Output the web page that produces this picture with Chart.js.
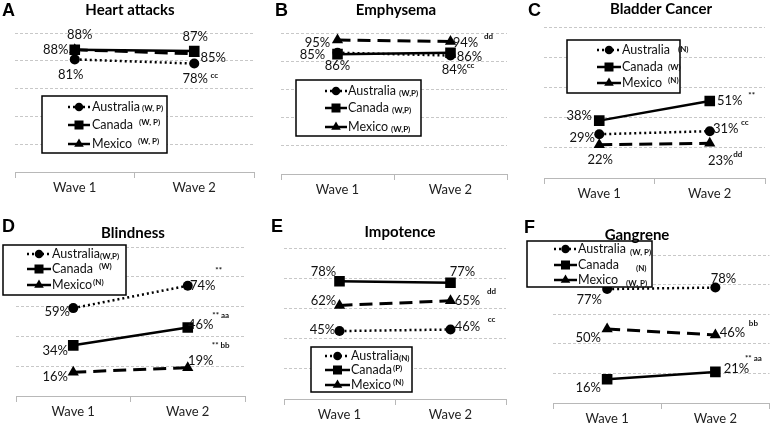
<!DOCTYPE html>
<html>
<head>
<meta charset="utf-8">
<script src="https://cdn.jsdelivr.net/npm/chart.js@4.4.0/dist/chart.umd.min.js"></script>
<style>
  body { margin: 0; background: #fff; }
  #wrap { position: relative; width: 777px; height: 425px; }
  #wrap canvas { position: absolute; left: 0; top: 0; }
</style>
</head>
<body>
<div id="wrap"></div>
<script>
// === data ===
const waves = ["Wave 1", "Wave 2"];
const countries = ["Australia", "Canada", "Mexico"];

const heartAustralia = [81, 78];
const heartCanada = [88, 87];
const heartMexico = [88, 85];

const emphAustralia = [86, 84];
const emphCanada = [85, 86];
const emphMexico = [95, 94];

const bladderAustralia = [29, 31];
const bladderCanada = [38, 51];
const bladderMexico = [22, 23];

const blindAustralia = [59, 74];
const blindCanada = [34, 46];
const blindMexico = [16, 19];

const impoAustralia = [45, 46];
const impoCanada = [78, 77];
const impoMexico = [62, 65];

const gangAustralia = [77, 78];
const gangCanada = [16, 21];
const gangMexico = [50, 46];

const yTicks = [0, 20, 40, 60, 80, 100];

// === styles ===
const FONT = "Lato, 'Open Sans', sans-serif";
const seriesStyle = [
  { pointStyle: "circle", radius: 5, dash: [2, 3], width: 2.5 },
  { pointStyle: "rect", radius: 7.5, dash: [], width: 2.5 },
  { pointStyle: "triangle", radius: 6.5, dash: [13, 7], width: 3 },
];

// panels: chart area (absolute px), title, letter, legend, value labels
const panels = [
  {
    letter: "A", lx: 2, ly: 10, title: "Heart attacks", tx: 130, ty: 9,
    area: { l: 15, r: 254, t: 33, b: 172 },
    data: [heartAustralia, heartCanada, heartMexico],
    legend: { x: 42, y: 96, w: 125, h: 57, rows: [107, 125, 144], s1: 68, s2: 90, tx: 92,
      notes: [["(W, P)", 2, 1], ["(W, P)", 6, -3], ["(W, P)", 6, -3]] },
    labels: [[1, 0, 5, -15], [1, 1, 1, -14], [2, 0, -19, 0], [2, 1, 19, 4], [0, 0, -4, 15], [0, 1, 1, 15, "cc", 20, 12]],
  },
  {
    letter: "B", lx: 275, ly: 10, title: "Emphysema", tx: 396, ty: 9,
    area: { l: 281, r: 507, t: 33, b: 174 },
    data: [emphAustralia, emphCanada, emphMexico],
    legend: { x: 296, y: 80, w: 125, h: 56, rows: [91, 108, 127], s1: 325, s2: 347, tx: 348,
      notes: [["(W,P)", 3, 2], ["(W,P)", 3, 2], ["(W,P)", 3, 2]] },
    labels: [[2, 0, -20, 3], [2, 1, 15, 1, "dd", 38, -5], [1, 0, -25, 1], [1, 1, 19, 4], [0, 0, 0, 13], [0, 1, 4, 14, "cc", 20, 10]],
  },
  {
    letter: "C", lx: 528, ly: 10, title: "Bladder Cancer", tx: 661, ty: 8,
    area: { l: 544, r: 765, t: 27, b: 178 },
    data: [bladderAustralia, bladderCanada, bladderMexico],
    legend: { x: 567, y: 40, w: 113, h: 53, rows: [50, 67, 83], s1: 597, s2: 621, tx: 622,
      notes: [["(N)", 8, -1], ["(W)", 5, 0], ["(N)", 6, -3]] },
    labels: [[1, 0, -20, -5], [1, 1, 20, 0, "**", 42, -6], [0, 0, -17, 4], [0, 1, 16, -2, "cc", 35, -9], [2, 0, 1, 15], [2, 1, 11, 18, "dd", 28, 11]],
  },
  {
    letter: "D", lx: 2, ly: 226, title: "Blindness", tx: 133, ty: 232,
    area: { l: 16, r: 245, t: 247, b: 396 },
    data: [blindAustralia, blindCanada, blindMexico],
    legend: { x: 3, y: 245, w: 123, h: 50, rows: [254, 269, 285], s1: 27, s2: 51, tx: 52,
      notes: [["(W,P)", 0, 2], ["(W)", 6, -3], ["(N)", 1, -3]] },
    labels: [[0, 0, -16, 4], [0, 1, 15, 0, "**", 31, -15], [1, 0, -18, 5], [1, 1, 13, -3, "** aa", 33, -12], [2, 0, -18, 5], [2, 1, 13, -7, "** bb", 33, -22]],
  },
  {
    letter: "E", lx: 271, ly: 226, title: "Impotence", tx: 400, ty: 231,
    area: { l: 284, r: 506, t: 248, b: 399 },
    data: [impoAustralia, impoCanada, impoMexico],
    legend: { x: 311, y: 347, w: 101, h: 45, rows: [356, 370, 385], s1: 325, s2: 350, tx: 351,
      notes: [["(N)", 0, 2], ["(P)", 1, -2], ["(N)", 2, -3]] },
    labels: [[1, 0, -16, -9], [1, 1, 12, -11], [2, 0, -16, -5], [2, 1, 17, 0, "dd", 41, -9], [0, 0, -17, -1], [0, 1, 17, -3, "cc", 41, -10]],
  },
  {
    letter: "F", lx: 524, ly: 227, title: "Gangrene", tx: 637, ty: 234,
    area: { l: 553, r: 774, t: 255, b: 403 },
    data: [gangAustralia, gangCanada, gangMexico],
    legend: { x: 527, y: 241, w: 125, h: 46, rows: [249, 265, 280], s1: 554, s2: 577, tx: 578,
      notes: [["(W, P)", 4, 3], ["(N)", 17, 3], ["(W, P)", 8, 3]] },
    labels: [[0, 0, -18, 11], [0, 1, 8, -9], [2, 0, -19, 9], [2, 1, 17, -2, "bb", 38, -11], [1, 0, -19, 8], [1, 1, 21, -3, "** aa", 38, -13]],
  },
];

// === marker helper ===
function marker(ctx, style, x, y, r) {
  ctx.beginPath();
  if (style === "circle") {
    ctx.arc(x, y, r, 0, Math.PI * 2);
  } else if (style === "rect") {
    const s = r * Math.SQRT1_2;
    ctx.rect(x - s, y - s, s * 2, s * 2);
  } else {
    ctx.moveTo(x, y - r);
    ctx.lineTo(x + r * 0.866, y + r * 0.5);
    ctx.lineTo(x - r * 0.866, y + r * 0.5);
    ctx.closePath();
  }
  ctx.fill();
}

// === panel decorations: letter, title, legend, value labels ===
const panelPlugin = {
  id: "panelDeco",
  afterDatasetsDraw(chart) {
    const p = chart.options.plugins.panelDeco.panel;
    const ctx = chart.ctx;
    ctx.save();
    ctx.fillStyle = "#111";
    ctx.textBaseline = "middle";
    p.labels.forEach((l) => {
      const pt = chart.getDatasetMeta(l[0]).data[l[1]];
      const v = chart.data.datasets[l[0]].data[l[1]];
      ctx.font = "13px " + FONT;
      ctx.textAlign = "center";
      ctx.fillText(v + "%", pt.x + l[2], pt.y + l[3]);
      if (l[4]) {
        ctx.font = "bold 8px " + FONT;
        ctx.fillText(l[4], pt.x + l[5], pt.y + l[6]);
      }
    });
    ctx.restore();
  },
  afterDraw(chart) {
    const p = chart.options.plugins.panelDeco.panel;
    const ctx = chart.ctx;
    ctx.save();
    ctx.textBaseline = "middle";

    // legend box
    const lg = p.legend;
    ctx.fillStyle = "#fff";
    ctx.fillRect(lg.x, lg.y, lg.w, lg.h);
    ctx.strokeStyle = "#000";
    ctx.lineWidth = 1.5;
    ctx.strokeRect(lg.x, lg.y, lg.w, lg.h);
    countries.forEach((name, i) => {
      const st = seriesStyle[i];
      const y = lg.rows[i];
      ctx.strokeStyle = "#000";
      ctx.fillStyle = "#000";
      ctx.lineWidth = 2.5;
      ctx.setLineDash(i === 0 ? [2, 3] : []);
      ctx.beginPath();
      ctx.moveTo(lg.s1, y);
      ctx.lineTo(lg.s2, y);
      ctx.stroke();
      ctx.setLineDash([]);
      marker(ctx, st.pointStyle, (lg.s1 + lg.s2) / 2, y, st.radius * 0.85);
      ctx.fillStyle = "#111";
      ctx.font = "12.5px " + FONT;
      ctx.textAlign = "left";
      ctx.fillText(name, lg.tx, y);
      const w = ctx.measureText(name).width;
      const n = lg.notes[i];
      ctx.font = "bold 8px " + FONT;
      ctx.fillText(n[0], lg.tx + w + n[1], y + n[2]);
    });

    // panel letter + title (on top of legend)
    ctx.fillStyle = "#000";
    ctx.textAlign = "left";
    ctx.font = "bold 18px 'Liberation Sans', Arial, sans-serif";
    ctx.fillText(p.letter, p.lx, p.ly + 1);
    ctx.textAlign = "center";
    ctx.font = "bold 15px " + FONT;
    ctx.fillText(p.title, p.tx, p.ty + 1);
    ctx.restore();
  },
};

// === build charts ===
const wrap = document.getElementById("wrap");
panels.forEach((p) => {
  const canvas = document.createElement("canvas");
  canvas.width = 777;
  canvas.height = 425;
  wrap.appendChild(canvas);

  const xh = 20;
  new Chart(canvas.getContext("2d"), {
    type: "line",
    data: {
      labels: waves,
      datasets: countries.map((name, i) => ({
        label: name,
        data: p.data[i],
        borderColor: "#000",
        backgroundColor: "#000",
        borderWidth: seriesStyle[i].width,
        borderDash: seriesStyle[i].dash,
        tension: 0,
        fill: false,
        pointStyle: seriesStyle[i].pointStyle,
        pointRadius: seriesStyle[i].radius,
        pointBackgroundColor: "#000",
        pointBorderColor: "#000",
        pointBorderWidth: 0,
      })),
    },
    options: {
      responsive: false,
      animation: false,
      devicePixelRatio: 1,
      events: [],
      layout: {
        padding: {
          left: p.area.l,
          right: 777 - p.area.r,
          top: p.area.t,
          bottom: 425 - p.area.b - xh,
        },
      },
      plugins: {
        legend: { display: false },
        title: { display: false },
        tooltip: { enabled: false },
        panelDeco: { panel: p },
      },
      scales: {
        x: {
          offset: true,
          grid: { offset: true, drawOnChartArea: false, drawTicks: true, tickLength: 6, color: "#b8b8b8" },
          border: { display: true, color: "#b8b8b8", width: 1 },
          ticks: { color: "#222", font: { family: FONT, size: 13 }, padding: 2 },
          afterFit: (s) => { s.height = xh; },
        },
        y: {
          min: yTicks[0],
          max: yTicks[yTicks.length - 1],
          afterBuildTicks: (s) => { s.ticks = yTicks.map((v) => ({ value: v })); },
          ticks: { display: false },
          grid: {
            drawTicks: false,
            color: (c) => (c.tick && c.tick.value === 0 ? "rgba(0,0,0,0)" : "#c8c8c8"),
          },
          border: { display: false, dash: [3, 2] },
          afterFit: (s) => { s.width = 0; },
        },
      },
    },
    plugins: [panelPlugin],
  });
});
</script>
</body>
</html>
